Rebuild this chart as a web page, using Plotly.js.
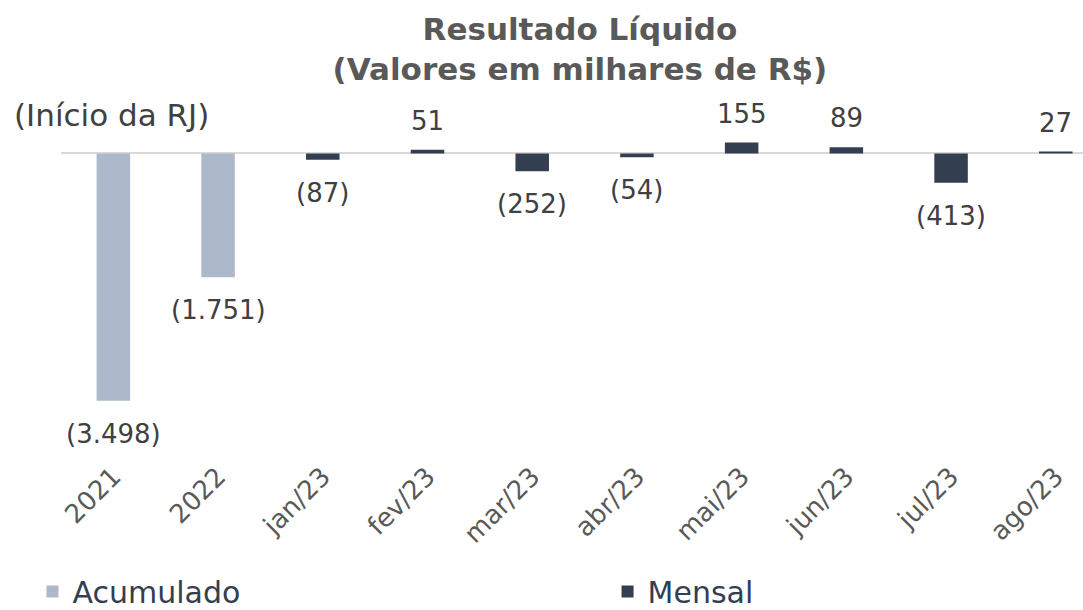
<!DOCTYPE html>
<html>
<head>
<meta charset="utf-8">
<script src="https://cdn.plot.ly/plotly-3.0.1.min.js"></script>
<style>
  html, body { margin: 0; padding: 0; background: #fff; }
  #chart { width: 1083px; height: 610px; }
</style>
</head>
<body>
<div id="chart"></div>
<script>
  var categorias = ['2021', '2022', 'jan/23', 'fev/23', 'mar/23', 'abr/23', 'mai/23', 'jun/23', 'jul/23', 'ago/23'];
  var acumulado = [-3498, -1751, null, null, null, null, null, null, null, null];
  var mensal = [null, null, -87, 51, -252, -54, 155, 89, -413, 27];

  var fonte = 'DejaVu Sans, Arial, sans-serif';

  // formato brasileiro, negativos entre parenteses
  function fmt(v) {
    var s = Math.abs(v).toString().replace(/\B(?=(\d{3})+(?!\d))/g, '.');
    return v < 0 ? '(' + s + ')' : s;
  }

  var trace1 = {
    type: 'bar',
    name: 'Acumulado',
    x: categorias,
    y: acumulado,
    width: 0.32,
    marker: { color: '#adb9ca' },
    legend: 'legend',
    hoverinfo: 'skip'
  };

  var trace2 = {
    type: 'bar',
    name: 'Mensal',
    x: categorias,
    y: mensal,
    width: 0.32,
    marker: { color: '#333f50' },
    legend: 'legend2',
    hoverinfo: 'skip'
  };

  // rotulos de dados (x pelo indice da categoria)
  var rotulos = [];
  [acumulado, mensal].forEach(function (serie) {
    serie.forEach(function (v, i) {
      if (v === null) return;
      rotulos.push({
        x: i,
        y: v,
        text: fmt(v),
        showarrow: false,
        xanchor: 'center',
        yanchor: v < 0 ? 'top' : 'bottom',
        yshift: v < 0 ? -16 : 12,
        font: { family: fonte, size: 26, color: '#404040' }
      });
    });
  });

  rotulos.push({
    xref: 'paper', yref: 'paper',
    x: 0.049, y: 0.965,
    text: '(Início da RJ)',
    showarrow: false,
    xanchor: 'center', yanchor: 'middle',
    font: { family: fonte, size: 31, color: '#404040' }
  });

  var fonteLegenda = { family: fonte, size: 30, color: '#333f50' };

  var layout = {
    width: 1083,
    height: 610,
    margin: { l: 61, r: 0, t: 104, b: 195 },
    paper_bgcolor: '#ffffff',
    plot_bgcolor: '#ffffff',
    barmode: 'overlay',
    showlegend: true,
    title: {
      text: '<b>Resultado Líquido<br>(Valores em milhares de R$)</b>',
      x: 0.5355,
      xref: 'container',
      xanchor: 'center',
      y: 0.935,
      yref: 'container',
      yanchor: 'top',
      font: { family: fonte, size: 31, color: '#595959' }
    },
    xaxis: {
      type: 'category',
      range: [-0.5, 9.26],
      showgrid: false,
      showline: false,
      zeroline: false,
      ticks: '',
      tickangle: -45,
      ticklabelstandoff: 40,
      tickfont: { family: fonte, size: 26, color: '#595959' },
      fixedrange: true
    },
    yaxis: {
      range: [-3700, 700],
      showgrid: false,
      showticklabels: false,
      zeroline: true,
      zerolinecolor: '#d9d9d9',
      zerolinewidth: 2,
      ticks: '',
      fixedrange: true
    },
    legend: {
      orientation: 'h',
      xref: 'container', yref: 'container',
      x: 0.03, xanchor: 'left',
      y: 0.073, yanchor: 'top',
      font: fonteLegenda
    },
    legend2: {
      orientation: 'h',
      xref: 'container', yref: 'container',
      x: 0.561, xanchor: 'left',
      y: 0.073, yanchor: 'top',
      font: fonteLegenda
    },
    annotations: rotulos
  };

  Plotly.newPlot('chart', [trace1, trace2], layout, { displayModeBar: false, staticPlot: true });
</script>
</body>
</html>
